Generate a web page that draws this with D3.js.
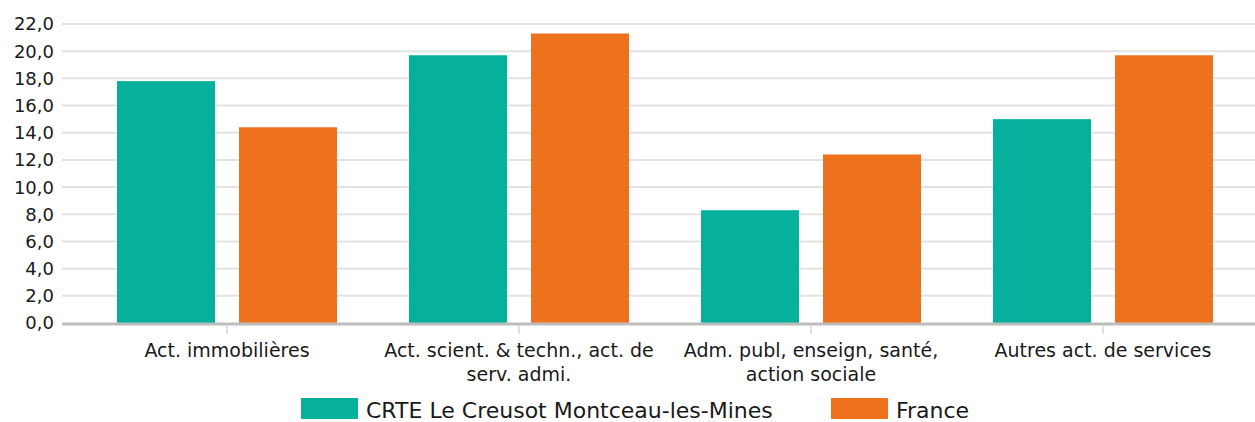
<!DOCTYPE html>
<html>
<head>
<meta charset="utf-8">
<script src="https://cdn.jsdelivr.net/npm/d3@7"></script>
<style>
  body { margin: 0; background: #fff; }
  text { font-family: "DejaVu Sans", sans-serif; fill: #1a1a1a; }
</style>
</head>
<body>
<div id="chart"></div>
<script>
const categories = [
    ["Act. immobilières"],
    ["Act. scient. & techn., act. de", "serv. admi."],
    ["Adm. publ, enseign, santé,", "action sociale"],
    ["Autres act. de services"]
];
const seriesNames = ["CRTE Le Creusot Montceau-les-Mines", "France"];
const crte = [17.8, 19.7, 8.3, 15.0];
const france = [14.4, 21.3, 12.4, 19.7];
const yTicks = [0, 2, 4, 6, 8, 10, 12, 14, 16, 18, 20, 22];
const colors = ["#05b09c", "#ee711e"];

const W = 1255, H = 422;
const svg = d3.select("#chart").append("svg")
    .attr("width", W).attr("height", H);

const y = d3.scaleLinear().domain([0, 22]).range([323, 24]);
const x = d3.scaleBand().domain(d3.range(categories.length)).range([81, 1249]);
const inner = d3.scaleBand().domain([0, 1]).range([36, x.bandwidth() - 36]).paddingInner(0.197);

// gridlines
svg.append("g")
    .selectAll("line")
    .data(yTicks.slice(1))
    .join("line")
    .attr("x1", 62).attr("x2", W)
    .attr("y1", d => y(d)).attr("y2", d => y(d))
    .attr("stroke", "#e3e3e3").attr("stroke-width", 2);

// y labels
svg.append("g")
    .selectAll("text")
    .data(yTicks)
    .join("text")
    .attr("x", 54).attr("y", d => y(d))
    .attr("dy", "0.36em")
    .attr("text-anchor", "end")
    .style("font-size", "18px")
    .text(d => d3.format(".1f")(d).replace(".", ","));

// bars
const data = categories.map((c, i) => [crte[i], france[i]]);
const groups = svg.append("g")
    .selectAll("g")
    .data(data)
    .join("g")
    .attr("transform", (d, i) => `translate(${x(i)},0)`);

groups.selectAll("rect")
    .data(d => d)
    .join("rect")
    .attr("x", (d, j) => inner(j))
    .attr("width", inner.bandwidth())
    .attr("y", d => y(d))
    .attr("height", d => y(0) - y(d))
    .attr("fill", (d, j) => colors[j]);

// x axis
svg.append("line")
    .attr("x1", 62).attr("x2", W)
    .attr("y1", y(0) + 1).attr("y2", y(0) + 1)
    .attr("stroke", "#bdbdbd").attr("stroke-width", 3);

svg.append("g")
    .selectAll("line")
    .data(categories)
    .join("line")
    .attr("x1", (d, i) => x(i) + x.bandwidth() / 2)
    .attr("x2", (d, i) => x(i) + x.bandwidth() / 2)
    .attr("y1", y(0) + 2).attr("y2", y(0) + 11)
    .attr("stroke", "#e0e0e0").attr("stroke-width", 2);

const labels = svg.append("g")
    .selectAll("text")
    .data(categories)
    .join("text")
    .attr("x", (d, i) => x(i) + x.bandwidth() / 2)
    .attr("y", 357)
    .attr("text-anchor", "middle")
    .style("font-size", "19px");
labels.selectAll("tspan")
    .data(d => d)
    .join("tspan")
    .attr("x", function() { return this.parentNode.getAttribute("x"); })
    .attr("dy", (d, k) => k === 0 ? 0 : 23.5)
    .text(d => d);

// legend
const legend = svg.append("g");
const legX = [301, 831];
seriesNames.forEach((name, i) => {
    legend.append("rect")
        .attr("x", legX[i]).attr("y", 398)
        .attr("width", 57).attr("height", 21)
        .attr("fill", colors[i]);
    legend.append("text")
        .attr("x", legX[i] + 65).attr("y", 418)
        .style("font-size", "22px")
        .text(name);
});
</script>
</body>
</html>
